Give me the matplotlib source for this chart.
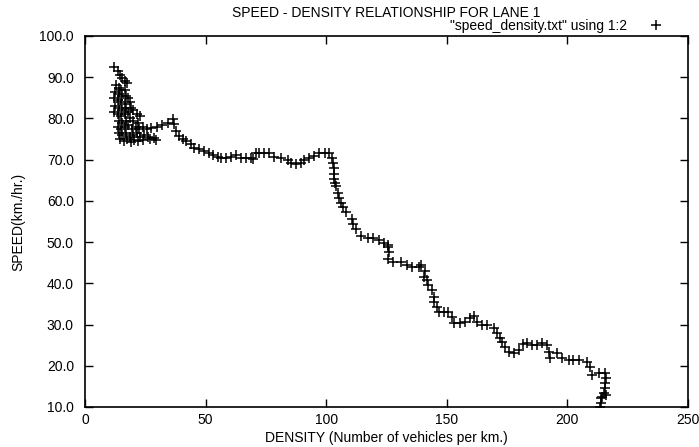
import matplotlib
matplotlib.use("Agg")
import matplotlib.pyplot as plt

# density (vehicles/km) and speed (km/hr)
density = [
    12.0, 13.5, 14.5, 15.5, 16.5, 17.5, 13.0, 14.0, 15.0, 16.5, 12.5, 14.0, 15.5, 17.0, 18.0,
    12.0, 13.5, 15.0, 16.5, 18.5, 12.5, 14.0, 15.5, 17.0, 19.0, 12.0, 13.5, 15.0, 16.5, 18.0,
    20.0, 21.5, 23.0, 14.0, 15.5, 17.0, 18.5, 20.0, 22.0, 13.5, 15.0, 16.5, 18.0, 19.5, 21.0,
    22.5, 24.0, 25.5, 14.0, 15.5, 17.0, 18.5, 20.0, 21.5, 23.0, 24.5, 26.0, 14.5, 16.0, 17.5,
    19.0, 20.5, 22.0, 24.0, 27.0, 28.5, 29.5,
    27.5, 30.0, 32.0, 34.5, 36.5, 37.0, 37.8, 39.0, 40.7, 42.0, 44.0, 45.3, 47.3, 49.4, 51.5,
    53.2, 55.2, 56.5, 58.6, 60.6, 62.7, 64.8, 66.9, 68.9, 69.8, 71.0, 72.3, 74.3, 76.4, 78.5,
    81.4, 84.3, 85.5, 87.6, 89.7, 91.0, 93.0, 95.1, 97.2, 99.3, 101.3, 102.2, 103.0, 103.4,
    103.4, 103.4, 103.8, 104.2, 104.7, 105.5, 106.3, 107.1, 108.4, 110.5, 111.3, 112.5, 114.6,
    117.5, 119.6, 121.7, 123.8, 125.8, 125.8, 126.2, 125.8, 127.9, 131.2, 133.3, 135.4, 138.3,
    139.5, 140.8, 140.4, 141.6, 142.4, 143.7, 144.5, 144.9, 145.8, 146.6, 148.7, 150.7, 152.0,
    152.8, 155.3, 157.4, 159.5, 161.1, 162.4, 164.5, 166.5, 169.4, 170.7, 171.9, 172.8, 174.0,
    175.7, 177.7, 179.8, 181.5, 183.1, 185.2, 187.3, 189.4, 191.4, 192.3, 192.7, 195.6, 197.7,
    200.6, 202.5, 204.7, 208.0, 209.3, 210.1, 213.0, 215.5, 216.0, 215.6, 215.6, 215.2, 214.5,
    213.8, 215.8, 213.8, 213.5,
]
speed = [
    92.5, 91.5, 90.5, 89.8, 89.0, 88.5, 88.0, 87.5, 87.0, 86.8, 86.5, 86.0, 85.5, 85.5, 85.0,
    85.0, 84.5, 84.0, 83.5, 84.0, 83.0, 82.5, 82.0, 82.5, 82.5, 81.5, 81.0, 80.5, 81.0, 81.5,
    82.0, 81.0, 80.5, 79.5, 79.0, 79.5, 80.0, 79.5, 79.0, 78.0, 77.5, 78.0, 78.5, 77.5, 78.0,
    77.5, 78.0, 77.5, 76.5, 76.0, 76.5, 75.5, 76.0, 76.5, 75.5, 76.0, 75.5, 75.0, 74.5, 75.0,
    74.3, 74.8, 74.5, 74.8, 75.0, 75.2, 74.8,
    77.8, 78.0, 78.3, 78.8, 79.8, 78.7, 77.0, 75.8, 75.1, 74.6, 73.9, 72.9, 72.7, 72.2, 71.7,
    71.2, 70.7, 70.5, 70.5, 70.7, 71.2, 70.5, 70.5, 70.5, 70.2, 71.5, 71.7, 71.7, 71.5, 70.7,
    70.5, 70.0, 69.3, 69.0, 69.3, 70.0, 70.5, 71.0, 71.5, 71.7, 71.5, 70.5, 69.3, 68.0,
    66.6, 65.4, 64.4, 63.7, 61.8, 60.8, 59.6, 58.4, 57.2, 55.7, 54.5, 53.3, 51.6,
    50.9, 50.9, 50.4, 49.9, 49.2, 48.7, 47.5, 46.0, 45.1, 45.1, 44.4, 43.9, 43.9,
    44.4, 43.1, 41.5, 40.7, 39.5, 38.3, 36.6, 35.4, 34.2, 33.0, 33.0, 33.0, 31.8,
    30.3, 30.3, 30.6, 31.5, 32.0, 30.6, 29.8, 29.8, 29.1, 27.9, 26.7, 25.7, 24.5,
    23.3, 23.1, 23.8, 25.2, 25.5, 25.0, 25.0, 25.5, 25.0, 23.3, 21.9, 23.1, 21.9,
    21.4, 21.4, 21.4, 20.9, 19.7, 17.7, 18.2, 18.2, 17.0, 15.8, 14.6, 13.4, 12.4,
    12.2, 13.0, 11.0, 10.0,
]
x_ticks = [0, 50, 100, 150, 200, 250]
y_ticks = [10, 20, 30, 40, 50, 60, 70, 80, 90, 100]

plt.rcParams['font.family'] = ['Liberation Sans', 'DejaVu Sans']
fig = plt.figure(figsize=(6.99, 4.47), dpi=100)
ax = fig.add_axes([85 / 699, 1 - 407 / 447, 603 / 699, 371 / 447])

ax.plot(density, speed, linestyle="none", marker="+", color="black",
        markersize=7, markeredgewidth=1.1, label='"speed_density.txt" using 1:2')

ax.set_xlim(0, 250)
ax.set_ylim(10, 100)
ax.set_xticks(x_ticks)
ax.set_yticks(y_ticks)
ax.set_yticklabels([f"{v:.1f}" for v in y_ticks])
ax.tick_params(direction="in", top=True, right=True, length=6, width=1, labelsize=10)
ax.tick_params(axis="y", pad=8)
ax.tick_params(axis="x", pad=4)
for s in ax.spines.values():
    s.set_linewidth(1.2)

ax.set_title("SPEED - DENSITY RELATIONSHIP FOR LANE 1", fontsize=10, pad=14)
ax.set_xlabel("DENSITY (Number of vehicles per km.)", fontsize=10, labelpad=3)
ax.set_ylabel("SPEED(km./hr.)", fontsize=10, labelpad=10)

# key sits just above the top border, as in the gnuplot original
ax.legend(loc="center right", frameon=False, fontsize=10, markerfirst=False,
          handletextpad=1.6, handlelength=1.0, borderpad=0.2,
          bbox_to_anchor=(0.975, 1.027))

fig.savefig("out.png", dpi=100)
